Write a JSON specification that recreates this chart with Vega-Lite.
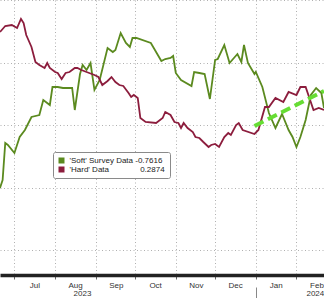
{
  "$schema": "https://vega.github.io/schema/vega-lite/v6.json",
  "width": 324,
  "height": 275,
  "autosize": "none",
  "padding": {"left": 0, "top": 0, "right": 0, "bottom": 23},
  "background": "white",
  "config": {
    "view": {"stroke": null},
    "axis": {"labelFont": "Liberation Sans", "labelFontSize": 8, "labelColor": "#333"}
  },
  "datasets": {
    "soft": [
      {"date": "2023-06-20", "v": -0.504}, {"date": "2023-06-22", "v": -0.44}, {"date": "2023-06-24", "v": -0.144},
      {"date": "2023-06-26", "v": -0.16}, {"date": "2023-07-01", "v": -0.224}, {"date": "2023-07-05", "v": -0.096},
      {"date": "2023-07-09", "v": -0.04}, {"date": "2023-07-14", "v": 0.064}, {"date": "2023-07-20", "v": 0.08},
      {"date": "2023-07-23", "v": 0.2}, {"date": "2023-07-28", "v": 0.16}, {"date": "2023-07-30", "v": 0.304},
      {"date": "2023-08-03", "v": 0.304}, {"date": "2023-08-07", "v": 0.296}, {"date": "2023-08-14", "v": 0.296},
      {"date": "2023-08-16", "v": 0.12}, {"date": "2023-08-20", "v": 0.408}, {"date": "2023-08-22", "v": 0.48},
      {"date": "2023-08-25", "v": 0.44}, {"date": "2023-08-28", "v": 0.496}, {"date": "2023-08-31", "v": 0.28},
      {"date": "2023-09-04", "v": 0.36}, {"date": "2023-09-10", "v": 0.616}, {"date": "2023-09-14", "v": 0.584},
      {"date": "2023-09-16", "v": 0.6}, {"date": "2023-09-20", "v": 0.736}, {"date": "2023-09-24", "v": 0.656},
      {"date": "2023-09-27", "v": 0.624}, {"date": "2023-09-29", "v": 0.696}, {"date": "2023-10-02", "v": 0.696},
      {"date": "2023-10-13", "v": 0.656}, {"date": "2023-10-21", "v": 0.512}, {"date": "2023-10-24", "v": 0.528},
      {"date": "2023-10-28", "v": 0.536}, {"date": "2023-10-30", "v": 0.552}, {"date": "2023-11-01", "v": 0.416},
      {"date": "2023-11-05", "v": 0.36}, {"date": "2023-11-13", "v": 0.312}, {"date": "2023-11-15", "v": 0.424},
      {"date": "2023-11-19", "v": 0.416}, {"date": "2023-11-23", "v": 0.408}, {"date": "2023-11-27", "v": 0.208},
      {"date": "2023-12-01", "v": 0.52}, {"date": "2023-12-03", "v": 0.528}, {"date": "2023-12-08", "v": 0.64},
      {"date": "2023-12-12", "v": 0.496}, {"date": "2023-12-18", "v": 0.568}, {"date": "2023-12-21", "v": 0.504},
      {"date": "2023-12-23", "v": 0.64}, {"date": "2023-12-26", "v": 0.496}, {"date": "2023-12-31", "v": 0.408},
      {"date": "2024-01-01", "v": 0.424}, {"date": "2024-01-06", "v": 0.304}, {"date": "2024-01-11", "v": 0.096},
      {"date": "2024-01-16", "v": -0.024}, {"date": "2024-01-21", "v": 0.088}, {"date": "2024-01-26", "v": -0.04},
      {"date": "2024-01-29", "v": -0.096}, {"date": "2024-02-01", "v": -0.176}, {"date": "2024-02-04", "v": -0.096},
      {"date": "2024-02-08", "v": 0.04}, {"date": "2024-02-12", "v": 0.24}, {"date": "2024-02-16", "v": 0.296},
      {"date": "2024-02-20", "v": 0.256}, {"date": "2024-02-22", "v": 0.136}
    ],
    "hard": [
      {"date": "2023-06-20", "v": 0.744}, {"date": "2023-06-24", "v": 0.792}, {"date": "2023-06-29", "v": 0.8},
      {"date": "2023-07-03", "v": 0.776}, {"date": "2023-07-06", "v": 0.848}, {"date": "2023-07-08", "v": 0.816},
      {"date": "2023-07-10", "v": 0.72}, {"date": "2023-07-11", "v": 0.696}, {"date": "2023-07-14", "v": 0.624},
      {"date": "2023-07-17", "v": 0.504}, {"date": "2023-07-20", "v": 0.48}, {"date": "2023-07-24", "v": 0.456},
      {"date": "2023-07-26", "v": 0.496}, {"date": "2023-07-28", "v": 0.456}, {"date": "2023-08-01", "v": 0.424},
      {"date": "2023-08-03", "v": 0.416}, {"date": "2023-08-06", "v": 0.368}, {"date": "2023-08-09", "v": 0.416},
      {"date": "2023-08-12", "v": 0.424}, {"date": "2023-08-16", "v": 0.456}, {"date": "2023-08-18", "v": 0.456},
      {"date": "2023-08-21", "v": 0.44}, {"date": "2023-08-25", "v": 0.424}, {"date": "2023-08-31", "v": 0.4},
      {"date": "2023-09-03", "v": 0.384}, {"date": "2023-09-06", "v": 0.32}, {"date": "2023-09-10", "v": 0.352},
      {"date": "2023-09-13", "v": 0.384}, {"date": "2023-09-16", "v": 0.344}, {"date": "2023-09-19", "v": 0.32},
      {"date": "2023-09-22", "v": 0.312}, {"date": "2023-09-26", "v": 0.256}, {"date": "2023-09-28", "v": 0.224},
      {"date": "2023-09-30", "v": 0.24}, {"date": "2023-10-03", "v": 0.216}, {"date": "2023-10-05", "v": 0.056},
      {"date": "2023-10-09", "v": 0.024}, {"date": "2023-10-17", "v": 0.016}, {"date": "2023-10-22", "v": 0.056},
      {"date": "2023-10-24", "v": 0.104}, {"date": "2023-10-28", "v": 0.08}, {"date": "2023-10-31", "v": 0.024},
      {"date": "2023-11-03", "v": 0.016}, {"date": "2023-11-05", "v": -0.024}, {"date": "2023-11-07", "v": 0.016},
      {"date": "2023-11-10", "v": -0.024}, {"date": "2023-11-14", "v": -0.056}, {"date": "2023-11-16", "v": -0.096},
      {"date": "2023-11-19", "v": -0.104}, {"date": "2023-11-22", "v": -0.136}, {"date": "2023-11-26", "v": -0.176},
      {"date": "2023-11-28", "v": -0.16}, {"date": "2023-12-01", "v": -0.152}, {"date": "2023-12-04", "v": -0.176},
      {"date": "2023-12-08", "v": -0.096}, {"date": "2023-12-11", "v": -0.064}, {"date": "2023-12-13", "v": -0.08},
      {"date": "2023-12-17", "v": 0.0}, {"date": "2023-12-19", "v": 0.016}, {"date": "2023-12-22", "v": -0.04},
      {"date": "2023-12-31", "v": -0.072}, {"date": "2024-01-03", "v": -0.04}, {"date": "2024-01-08", "v": 0.144},
      {"date": "2024-01-11", "v": 0.144}, {"date": "2024-01-16", "v": 0.216}, {"date": "2024-01-22", "v": 0.184},
      {"date": "2024-01-26", "v": 0.264}, {"date": "2024-02-01", "v": 0.24}, {"date": "2024-02-04", "v": 0.304},
      {"date": "2024-02-08", "v": 0.304}, {"date": "2024-02-14", "v": 0.12}, {"date": "2024-02-18", "v": 0.136},
      {"date": "2024-02-22", "v": 0.12}
    ],
    "trend": [
      {"date": "2023-12-31", "v": -0.008},
      {"date": "2024-02-22", "v": 0.272}
    ]
  },
  "resolve": {"axis": {"x": "independent"}},
  "layer": [
    {
      "data": {"name": "soft"},
      "mark": {"type": "line", "strokeWidth": 1.8, "clip": true},
      "encoding": {
        "x": {
          "field": "date", "type": "temporal",
          "scale": {"type": "utc", "domain": [{"year": 2023, "month": 6, "date": 20, "utc": true}, {"year": 2024, "month": 2, "date": 22, "utc": true}]},
          "axis": {
            "orient": "bottom",
            "title": null,
            "values": [
              {"year": 2023, "month": 7, "date": 1, "utc": true}, {"year": 2023, "month": 8, "date": 1, "utc": true},
              {"year": 2023, "month": 9, "date": 1, "utc": true}, {"year": 2023, "month": 10, "date": 1, "utc": true},
              {"year": 2023, "month": 11, "date": 1, "utc": true}, {"year": 2023, "month": 12, "date": 1, "utc": true},
              {"year": 2024, "month": 1, "date": 1, "utc": true}, {"year": 2024, "month": 2, "date": 1, "utc": true}
            ],
            "labelExpr": "utcFormat(datum.value, '%b')",
            "labelOffset": 20, "labelFlush": false, "labelOverlap": false, "labelBound": false,
            "grid": true, "gridColor": "#b0b0b0", "gridDash": [1, 2.5], "gridWidth": 1,
            "domainColor": "#222", "domainWidth": 3.5,
            "tickColor": "#666", "tickSize": 4, "labelPadding": 2
          }
        },
        "y": {
          "field": "v", "type": "quantitative",
          "scale": {"domain": [-1.2, 1.0], "nice": false, "zero": false},
          "axis": {"title": null, "values": [-1, -0.5, 0, 0.5, 1], "grid": true, "gridColor": "#b0b0b0", "gridDash": [1, 2.5], "domain": false, "ticks": false, "labels": false}
        },
        "color": {
          "datum": "Soft",
          "scale": {"domain": ["Soft", "Hard"], "range": ["#5b8a1f", "#8c1d3d"]},
          "legend": {
            "orient": "none", "legendX": 53, "legendY": 152, "direction": "vertical",
            "title": null, "padding": 4.5, "strokeColor": "#8a8a8a", "fillColor": "white", "cornerRadius": 2,
            "symbolType": "square", "symbolSize": 36, "symbolStrokeWidth": 0,
            "labelFont": "Liberation Sans", "labelFontSize": 8, "labelColor": "#222", "labelLimit": 200,
            "rowPadding": 1, "labelOffset": 4,
            "labelExpr": "datum.label == 'Soft' ? \"'Soft' Survey Data -0.7616\" : \"'Hard' Data\u00a0\u00a0\u00a0\u00a0\u00a0\u00a0\u00a0\u00a0\u00a0\u00a0\u00a0\u00a0\u00a0 0.2874\"",
            "encode": {"symbols": {"update": {"fill": {"scale": "color", "field": "value"}, "stroke": {"value": "transparent"}}}}
          }
        }
      }
    },
    {
      "data": {"name": "hard"},
      "mark": {"type": "line", "strokeWidth": 1.8, "clip": true},
      "encoding": {
        "x": {
          "field": "date", "type": "temporal",
          "scale": {"type": "utc", "domain": [{"year": 2023, "month": 6, "date": 20, "utc": true}, {"year": 2024, "month": 2, "date": 22, "utc": true}]},
          "axis": {
            "orient": "bottom",
            "title": null,
            "values": [{"year": 2023, "month": 8, "date": 21, "hours": 12, "utc": true}, {"year": 2024, "month": 2, "date": 15, "utc": true}],
            "labelExpr": "utcFormat(datum.value, '%Y')",
            "grid": false, "domain": false, "ticks": false, "tickSize": 0,
            "labelPadding": 14, "labelFlush": false, "labelOverlap": false, "labelBound": false
          }
        },
        "y": {
          "field": "v", "type": "quantitative",
          "scale": {"domain": [-1.2, 1.0], "nice": false, "zero": false},
          "axis": {"title": null, "values": [-1, -0.5, 0, 0.5, 1], "grid": true, "gridColor": "#b0b0b0", "gridDash": [1, 2.5], "domain": false, "ticks": false, "labels": false}
        },
        "color": {"datum": "Hard"}
      }
    },
    {
      "data": {"name": "trend"},
      "mark": {"type": "line", "strokeWidth": 4, "strokeDash": [10, 5], "color": "#66dd33", "clip": true},
      "encoding": {
        "x": {
          "field": "date", "type": "temporal",
          "scale": {"type": "utc", "domain": [{"year": 2023, "month": 6, "date": 20, "utc": true}, {"year": 2024, "month": 2, "date": 22, "utc": true}]},
          "axis": {
            "orient": "bottom",
            "title": null,
            "values": [{"year": 2024, "month": 1, "date": 1, "utc": true}],
            "labels": false, "grid": false, "domain": false,
            "ticks": true, "tickSize": 11, "tickColor": "#888", "offset": 12
          }
        },
        "y": {
          "field": "v", "type": "quantitative",
          "scale": {"domain": [-1.2, 1.0], "nice": false, "zero": false},
          "axis": {"title": null, "values": [-1, -0.5, 0, 0.5, 1], "grid": true, "gridColor": "#b0b0b0", "gridDash": [1, 2.5], "domain": false, "ticks": false, "labels": false}
        }
      }
    }
  ]
}
